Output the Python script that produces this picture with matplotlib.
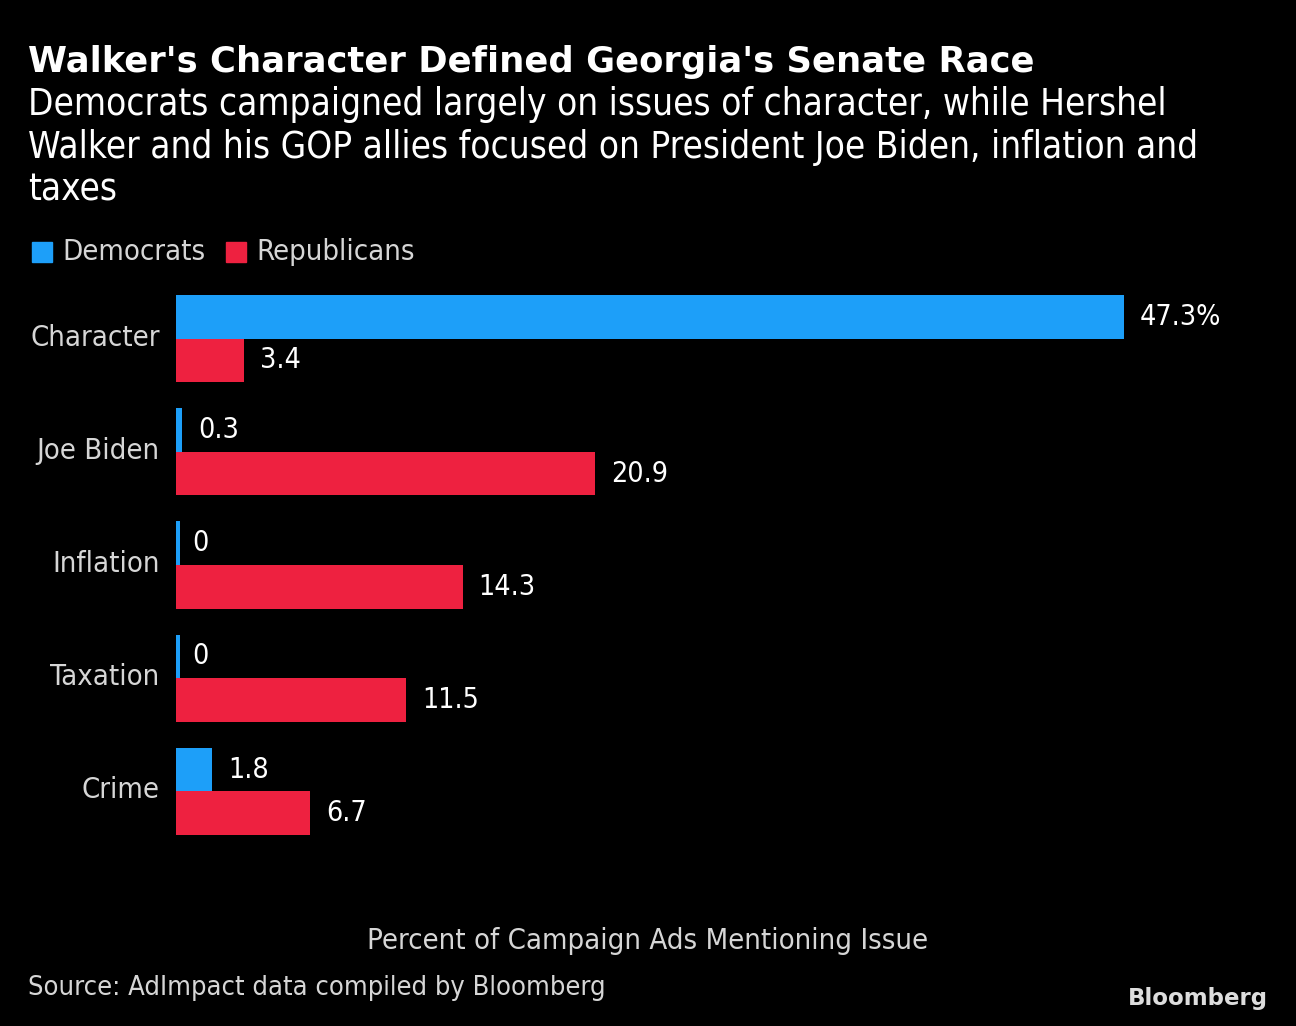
"""
Walker's Character Defined Georgia's Senate Race - Bloomberg style bar chart
"""

import matplotlib.pyplot as plt
import matplotlib.transforms as mtransforms
import numpy as np

# ----- Data -----
issues = ['Character', 'Joe Biden', 'Inflation', 'Taxation', 'Crime']
democrats = [47.3, 0.3, 0, 0, 1.8]
republicans = [3.4, 20.9, 14.3, 11.5, 6.7]
dem_labels = ['47.3%', '0.3', '0', '0', '1.8']
rep_labels = ['3.4', '20.9', '14.3', '11.5', '6.7']

BLUE = '#1D9FF9'
RED = '#EE2140'
BG = '#000000'
LABEL = '#D6D6D6'

plt.rcParams['font.family'] = ['DejaVu Sans']
plt.rcParams['font.stretch'] = 'condensed'

W, H = 1296, 1026
fig = plt.figure(figsize=(W / 100, H / 100), dpi=100, facecolor=BG)

# axes in pixel coords: left 176, right 1240, top 280, bottom 860
ax = fig.add_axes([176 / W, 1 - 860 / H, (1240 - 176) / W, (860 - 280) / H])
ax.set_facecolor(BG)

y = np.arange(len(issues))
h = 0.385
ax.barh(y - h / 2, democrats, height=h, color=BLUE, zorder=3)
ax.barh(y + h / 2, republicans, height=h, color=RED, zorder=3)

# tiny sliver for zero-valued democrat bars, as in the original
for yi, v in zip(y, democrats):
    if v == 0:
        ax.barh(yi - h / 2, 0.2, height=h, color=BLUE, zorder=3)

ax.set_xlim(0, 53.1)
ax.set_ylim(4.605, -0.517)

pad = 0.8
for yi, v, lab in zip(y, democrats, dem_labels):
    ax.text(v + pad, yi - h / 2, lab, color='white', fontsize=20.5,
            va='center', ha='left')
for yi, v, lab in zip(y, republicans, rep_labels):
    ax.text(v + pad, yi + h / 2, lab, color='white', fontsize=20.5,
            va='center', ha='left')

ax.set_yticks(y)
ax.set_yticklabels(issues, fontsize=21, color=LABEL)
ax.tick_params(axis='y', length=0, pad=11.7)
shift = mtransforms.ScaledTranslation(0, 4 / 100, fig.dpi_scale_trans)
for lbl in ax.get_yticklabels():
    lbl.set_transform(lbl.get_transform() + shift)
ax.set_xticks([])
for s in ax.spines.values():
    s.set_visible(False)

# ----- Titles, legend, notes -----
fig.text(28 / W, 1 - 62 / H, "Walker's Character Defined Georgia's Senate Race",
         color='white', fontsize=25.5, fontweight='bold', va='center', ha='left',
         fontstretch='normal')
fig.text(28 / W, 1 - 86 / H,
         "Democrats campaigned largely on issues of character, while Hershel\n"
         "Walker and his GOP allies focused on President Joe Biden, inflation and\n"
         "taxes",
         color='white', fontsize=26.5, va='top', ha='left', linespacing=1.2)

# legend
fig.patches.append(plt.Rectangle((32 / W, 1 - 262 / H), 20 / W, 20 / H,
                                 transform=fig.transFigure, color=BLUE))
fig.text(62 / W, 1 - 252 / H, 'Democrats', color=LABEL, fontsize=21, va='center')
fig.patches.append(plt.Rectangle((226 / W, 1 - 262 / H), 20 / W, 20 / H,
                                 transform=fig.transFigure, color=RED))
fig.text(256 / W, 1 - 252 / H, 'Republicans', color=LABEL, fontsize=21, va='center')

fig.text(648 / W, 1 - 941 / H, 'Percent of Campaign Ads Mentioning Issue',
         color=LABEL, fontsize=21, va='center', ha='center')
fig.text(28 / W, 1 - 988 / H, 'Source: AdImpact data compiled by Bloomberg',
         color=LABEL, fontsize=19.5, va='center', ha='left')
fig.text(1268 / W, 1 - 999 / H, 'Bloomberg', color='#DDDDDD', fontsize=16.5,
         fontweight='bold', va='center', ha='right', fontstretch='normal')

fig.savefig('out.png', dpi=100, facecolor=BG)
